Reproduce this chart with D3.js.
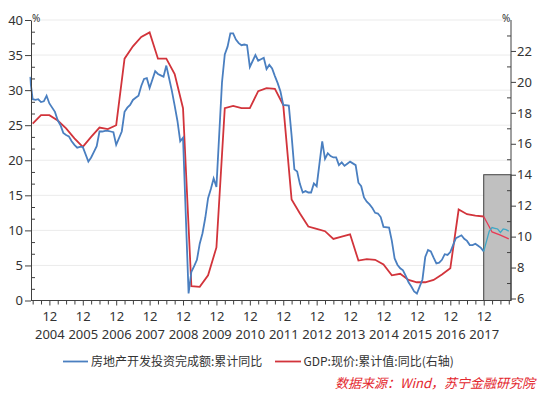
<!DOCTYPE html>
<html>
<head>
<meta charset="utf-8">
<script src="https://cdn.jsdelivr.net/npm/d3@7"></script>
<style>
  body{margin:0;background:#fff;}
  text{font-family:"Noto Sans","Noto Sans CJK SC",sans-serif;fill:#333;}
</style>
</head>
<body>
<svg id="chart" width="546" height="394"></svg>
<script>
// real estate investment, cumulative yoy (%), monthly Feb..Dec (Jan not published), 2004-05 .. 2018-09
const investYoY = [
  31.9, 28.7, 28.6, 28.7, 28.3, 28.4, 29.2, 28.1,                 // 2004 May-Dec
  26.9, 25.7, 25.0, 23.9, 23.6, 23.4, 22.7, 22.2, 21.8, 21.9, 21.9, // 2005
  19.8, 20.4, 21.2, 22.0, 24.1, 24.1, 24.2, 24.2, 24.1, 24.0, 22.2, // 2006
  24.1, 26.9, 27.5, 27.9, 28.6, 28.9, 29.2, 30.6, 31.6, 31.7, 30.3, // 2007
  32.7, 32.3, 32.1, 31.9, 33.5, 31.7, 29.9, 27.8, 25.6, 22.7, 23.2, // 2008
  1.0, 4.1, 4.9, 5.8, 8.1, 9.6, 11.8, 14.6, 15.9, 17.4, 16.2,       // 2009
  31.1, 35.1, 36.2, 38.1, 38.1, 37.2, 36.7, 36.4, 36.5, 36.4, 33.3, // 2010
  35.0, 34.2, 34.4, 34.6, 33.0, 33.6, 33.1, 32.0, 31.0, 29.8, 27.9, // 2011
  27.8, 23.5, 18.7, 18.4, 16.6, 15.4, 15.6, 15.4, 15.4, 16.7, 16.3, // 2012
  22.7, 20.2, 21.0, 20.6, 20.4, 20.4, 19.3, 19.7, 19.2, 19.5, 19.8, // 2013
  19.3, 16.8, 16.3, 14.7, 14.1, 13.7, 13.2, 12.5, 12.4, 11.9, 10.5, // 2014
  10.4, 8.5, 6.0, 5.1, 4.6, 4.3, 3.5, 2.6, 2.0, 1.3, 1.0,           // 2015
  3.0, 6.2, 7.2, 7.0, 6.1, 5.3, 5.4, 5.8, 6.6, 6.5, 6.9,            // 2016
  8.9, 9.1, 9.3, 8.8, 8.5, 7.9, 7.9, 8.1, 7.8, 7.5, 7.0,            // 2017
  9.9, 10.4, 10.3, 10.2, 9.7, 10.2, 10.1, 9.9                       // 2018 Feb-Sep
];

// nominal GDP, cumulative yoy (%), quarterly, 2004-06 .. 2018-09 (right axis)
const gdpYoY = [
  17.3, 17.85, 17.85,
  17.5, 17.0, 16.35, 15.8,
  16.45, 17.05, 16.95, 17.2,
  21.5, 22.3, 22.9, 23.2,
  21.5, 21.5, 20.5, 18.3,
  6.8, 6.75, 7.5, 9.3,
  18.3, 18.45, 18.3, 18.3,
  19.4, 19.6, 19.55, 18.5,
  12.4, 11.5, 10.65, 10.5,
  10.35, 9.85, 10.0, 10.15,
  8.45, 8.55, 8.5, 8.2,
  7.5, 7.6, 7.2, 7.05,
  7.05, 7.2, 7.55, 7.95,
  11.75, 11.45, 11.35, 11.3,
  10.3, 10.1, 9.85
];

const yearLabels = ["2004","2005","2006","2007","2008","2009","2010","2011","2012","2013","2014","2015","2016","2017"];
const leftTicks = [0, 5, 10, 15, 20, 25, 30, 35, 40];
const rightTicks = [6, 8, 10, 12, 14, 16, 18, 20, 22];
const legendNames = ["房地产开发投资完成额:累计同比", "GDP:现价:累计值:同比(右轴)"];
const sourceNote = "数据来源：Wind，苏宁金融研究院";

const svg = d3.select("#chart");

// month index: 0 = 2004-01
let investMonths = [];
for(let y = 2004; y <= 2018; y++){
    for(let mo = 2; mo <= 12; mo++){
        if(y === 2004 && mo < 5) continue;
        if(y === 2018 && mo > 9) continue;
        investMonths.push((y - 2004) * 12 + mo - 1);
    }
}
let gdpMonths = [];
for(let y = 2004; y <= 2018; y++){
    for(let mo = 3; mo <= 12; mo += 3){
        if(y === 2004 && mo < 6) continue;
        if(y === 2018 && mo > 9) continue;
        gdpMonths.push((y - 2004) * 12 + mo - 1);
    }
}
const invest = investMonths.map((m, i) => ({m: m, v: investYoY[i]}));
const gdp = gdpMonths.map((m, i) => ({m: m, v: gdpYoY[i]}));

const cutM = (2017 - 2004) * 12 + 11; // 2017-12, forecast box starts here

const x = d3.scaleLinear().domain([4.4, 176.8]).range([31, 511]);
const yL = d3.scaleLinear().domain([0, 40]).range([300.5, 20]);
const yR = d3.scaleLinear().domain([6, 24]).range([298.5, 20]);

//grid lines
svg.append("g").selectAll("line")
    .data(leftTicks.slice(1))
    .join("line")
    .attr("x1", 31).attr("x2", 511)
    .attr("y1", d => yL(d)).attr("y2", d => yL(d))
    .attr("stroke", "#ebebeb").attr("stroke-width", 1);

//gray box
svg.append("rect")
    .attr("x", x(cutM)).attr("y", yR(14))
    .attr("width", 511 - x(cutM)).attr("height", 300.5 - yR(14))
    .attr("fill", "#c0c0c0").attr("stroke", "#404040").attr("stroke-width", 1);

svg.append("clipPath").attr("id", "plotClip")
    .append("rect").attr("x", 29.5).attr("y", 0).attr("width", 481.5).attr("height", 302);

const plot = svg.append("g").attr("clip-path", "url(#plotClip)");

const lineL = d3.line().x(d => x(d.m)).y(d => yL(d.v));
const lineR = d3.line().x(d => x(d.m)).y(d => yR(d.v));

plot.append("path").datum(gdp.filter(d => d.m <= cutM))
    .attr("d", lineR).attr("fill", "none").attr("stroke", "#d2343b").attr("stroke-width", 1.8);
plot.append("path").datum(gdp.filter(d => d.m >= cutM))
    .attr("d", lineR).attr("fill", "none").attr("stroke", "#e83a55").attr("stroke-width", 1.3);
plot.append("path").datum(invest.filter(d => d.m <= cutM))
    .attr("d", lineL).attr("fill", "none").attr("stroke", "#4a7fc0").attr("stroke-width", 1.8);
plot.append("path").datum(invest.filter(d => d.m >= cutM))
    .attr("d", lineL).attr("fill", "none").attr("stroke", "#3fa8c6").attr("stroke-width", 1.3);

//axes
const axisColor = "#404040";
function styleAxis(g){
    g.selectAll(".domain").attr("stroke", axisColor);
    g.selectAll(".tick line").attr("stroke", axisColor);
    g.selectAll(".tick text").attr("fill", "#333").style("font-size", "13px");
}

const majorM = yearLabels.map((d, i) => 11 + i * 12);
let minorM = [];
for(let m = 5; m <= 176; m += 3){ if(majorM.indexOf(m) < 0) minorM.push(m); }

let xMinor = svg.append("g").attr("transform", "translate(0,300.5)")
    .call(d3.axisBottom(x).tickValues(minorM).tickSize(4).tickFormat(""));
xMinor.select(".domain").remove();
styleAxis(xMinor);

let xMajor = svg.append("g").attr("transform", "translate(0,300.5)")
    .call(d3.axisBottom(x).tickValues(majorM).tickSize(5).tickSizeOuter(0).tickPadding(6).tickFormat(() => "12"));
styleAxis(xMajor);
xMajor.select(".domain").attr("d", "M31,0H511");
xMajor.selectAll(".tick").append("text")
    .attr("y", 29).attr("dy", "0.71em")
    .attr("fill", "#333").style("font-size", "13px")
    .text((d, i) => yearLabels[i]);

let yLeft = svg.append("g").attr("transform", "translate(31,0)")
    .call(d3.axisLeft(yL).tickValues(leftTicks).tickSize(6).tickSizeOuter(0).tickPadding(2));
styleAxis(yLeft);
let leftMinor = [];
for(let k = 1; k < 24; k++){ if(k % 3 !== 0) leftMinor.push(k * 5 / 3); }
let yLeftMinor = svg.append("g").attr("transform", "translate(31,0)")
    .call(d3.axisRight(yL).tickValues(leftMinor).tickSize(4).tickFormat(""));
yLeftMinor.select(".domain").remove();
styleAxis(yLeftMinor);

let yRight = svg.append("g").attr("transform", "translate(511,0)")
    .call(d3.axisRight(yR).tickValues(rightTicks).tickSize(5).tickSizeOuter(0).tickPadding(1));
styleAxis(yRight);
yRight.select(".domain").attr("d", "M0,20V300.5");
let yRightMinor = svg.append("g").attr("transform", "translate(511,0)")
    .call(d3.axisLeft(yR).tickValues([7, 9, 11, 13, 15, 17, 19, 21, 23]).tickSize(4).tickFormat(""));
yRightMinor.select(".domain").remove();
styleAxis(yRightMinor);

svg.append("text").attr("x", 32).attr("y", 22).style("font-size", "10px").text("%");
svg.append("text").attr("x", 502).attr("y", 22).style("font-size", "10px").text("%");

//legend
const legendItems = [
    {name: legendNames[0], color: "#4a7fc0", x1: 63, x2: 88, tx: 91},
    {name: legendNames[1], color: "#d2343b", x1: 275, x2: 301, tx: 303.5}
];
let legend = svg.append("g");
legend.selectAll("line").data(legendItems).join("line")
    .attr("x1", d => d.x1).attr("x2", d => d.x2)
    .attr("y1", 361.5).attr("y2", 361.5)
    .attr("stroke", d => d.color).attr("stroke-width", 1.8);
legend.selectAll("text").data(legendItems).join("text")
    .attr("x", d => d.tx).attr("y", 366)
    .style("font-family", "'Noto Sans CJK SC', sans-serif")
    .style("font-size", "12px")
    .text(d => d.name);

svg.append("text").attr("x", 535).attr("y", 388).attr("text-anchor", "end")
    .style("font-family", "'Noto Sans CJK SC', sans-serif")
    .style("font-size", "13px").style("font-style", "italic")
    .attr("fill", "#e3262d").style("fill", "#e3262d")
    .text(sourceNote);
</script>
</body>
</html>
